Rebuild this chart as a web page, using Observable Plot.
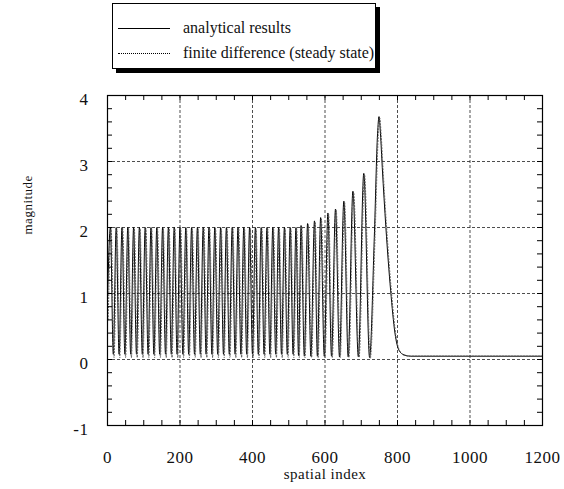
<!DOCTYPE html>
<html><head><meta charset="utf-8">
<script src="https://cdn.jsdelivr.net/npm/d3@7"></script>
<script src="https://cdn.jsdelivr.net/npm/@observablehq/plot@0.6"></script>
<style>
body{margin:0;background:#fff;font-family:"Liberation Serif",serif;}
#legend{position:relative;height:75px;width:564px;}
#box{position:absolute;left:112px;top:3px;width:262px;height:64px;border:1px solid #000;box-shadow:4px 4px 0 #000;background:#fff;font-size:16px;color:#111;}
.row{position:absolute;left:5px;height:20px;display:flex;align-items:center;white-space:nowrap;}
.sample{display:inline-block;width:52px;margin-right:13px;height:0;}
#chart svg text{letter-spacing:0.5px;}
</style></head>
<body>
<div id="legend"><div id="box"></div></div>
<div id="chart"></div>
<script>
// ---- data ----
const seriesNames = ["analytical results", "finite difference (steady state)"];
const xTicks = [0, 200, 400, 600, 800, 1000, 1200];
const yTicks = [-1, 0, 1, 2, 3, 4];
const xGrid = [200, 400, 600, 800, 1000];
const yGrid = [0, 1, 2, 3];

// analytical results: oscillation peaks, troughs, and the final large peak + tail
const anaPeakX = [8,24,40,56,72,88,104,120,136,152,168,184,200,216,232,248,264,280,296,312,328,344,360,376,392,408,424,440,456,472,488,504,520,534,552,571,588,608,629,652,677,707];
const anaPeakY = [2,2,2,2,2,2,2,2,2,2,2,2,2,2,2,2,2,2,2,2,2,2,2,2,2,2,2,2,2,2,2,2,2,2.03,2.06,2.1,2.15,2.22,2.28,2.4,2.55,2.82];
const anaTroughX = [0,16,32,48,64,80,96,112,128,144,160,176,192,208,224,240,256,272,288,304,320,336,352,368,384,400,416,432,448,464,480,496,512,527,543,561,579,598,618,640,664,692,723];
const anaTroughY = [0.9,0.08,0.08,0.08,0.08,0.08,0.08,0.08,0.08,0.08,0.08,0.08,0.08,0.08,0.08,0.08,0.08,0.08,0.08,0.08,0.08,0.08,0.08,0.08,0.08,0.08,0.08,0.08,0.08,0.08,0.08,0.08,0.08,0.06,0.05,0.05,0.05,0.05,0.05,0.04,0.04,0.04,0.03];
const anaBigX = [736, 745, 749, 753, 758, 768, 781, 793, 804, 818, 836, 1200];
const anaBigY = [1.85, 3.42, 3.68, 3.42, 2.91, 2.0, 1.05, 0.4, 0.14, 0.07, 0.05, 0.05];

// finite difference (steady state)
const fdPeakX = [10,26,42,58,74,90,106,122,138,154,170,186,202,218,234,250,266,282,298,314,330,346,362,378,394,410,426,442,458,474,490,506,522,536,554,573,590,610,631,654,679,709];
const fdPeakY = [1.98,1.98,1.98,1.98,1.98,1.98,1.98,1.98,1.98,1.98,1.98,1.98,1.98,1.98,1.98,1.98,1.98,1.98,1.98,1.98,1.98,1.98,1.98,1.98,1.98,1.98,1.98,1.98,1.98,1.98,1.98,1.98,1.98,2.01,2.04,2.08,2.13,2.2,2.26,2.38,2.53,2.8];
const fdTroughX = [2,18,34,50,66,82,98,114,130,146,162,178,194,210,226,242,258,274,290,306,322,338,354,370,386,402,418,434,450,466,482,498,514,529,545,563,581,600,620,642,666,694,725];
const fdTroughY = [0.6,0.03,0.03,0.03,0.03,0.03,0.03,0.03,0.03,0.03,0.03,0.03,0.03,0.03,0.03,0.03,0.03,0.03,0.03,0.03,0.03,0.03,0.03,0.03,0.03,0.03,0.03,0.03,0.03,0.03,0.03,0.03,0.03,0.03,0.03,0.03,0.03,0.03,0.03,0.03,0.03,0.03,0.02];
const fdBigX = [738, 747, 751, 755, 760, 770, 783, 795, 806, 820, 838, 1200];
const fdBigY = [1.85, 3.4, 3.66, 3.4, 2.9, 2.0, 1.04, 0.39, 0.13, 0.06, 0.05, 0.05];

// ---- legend ----
const box = document.getElementById("box");
const sampleStyles = ["1px solid #000", "1px dotted #000"];
seriesNames.forEach((name, i) => {
  const row = document.createElement("div");
  row.className = "row";
  row.style.top = (i === 0 ? 14 : 39) + "px";
  const s = document.createElement("span");
  s.className = "sample";
  s.style.borderTop = sampleStyles[i];
  row.appendChild(s);
  row.appendChild(document.createTextNode(name));
  box.appendChild(row);
});

// ---- chart ----
function pts(...pairs) {
  const out = [];
  for (let k = 0; k < pairs.length; k += 2) {
    pairs[k].forEach((x, i) => out.push({x, y: pairs[k + 1][i]}));
  }
  return out.sort((a, b) => a.x - b.x);
}
const ana = pts(anaPeakX, anaPeakY, anaTroughX, anaTroughY, anaBigX, anaBigY);
const fd = pts(fdPeakX, fdPeakY, fdTroughX, fdTroughY, fdBigX, fdBigY);

const xMinor = d3.range(0, 1201, 50);
const yMinor = d3.range(-1, 4.001, 0.2).map(v => +v.toFixed(1));
const fmt = d => String(d);
const TL = 5; // inward tick length in px
const frameW = 564 - 107 - 22, frameH = 414 - 20 - 64;

const chart = Plot.plot({
  width: 564,
  height: 414,
  marginTop: 20,
  marginBottom: 64,
  marginLeft: 107,
  marginRight: 22,
  x: {domain: [0, 1200], label: null},
  y: {domain: [-1, 4], label: null},
  style: {fontFamily: "Liberation Serif, serif", fontSize: "17px", color: "#111", background: "#fff"},
  marks: [
    Plot.gridX(xGrid, {stroke: "#222", strokeOpacity: 0.8, strokeDasharray: "3,2"}),
    Plot.gridY(yGrid, {stroke: "#222", strokeOpacity: 0.8, strokeDasharray: "3,2"}),
    Plot.line(ana, {x: "x", y: "y", curve: "monotone-x", stroke: "#000", strokeWidth: 1}),
    Plot.line(fd, {x: "x", y: "y", curve: "monotone-x", stroke: "#555", strokeWidth: 1, strokeDasharray: "1,2"}),
    Plot.frame({stroke: "#000", strokeWidth: 1.2}),
    Plot.tickX(xMinor, {x: d => d, insetTop: frameH - TL, stroke: "#000"}),
    Plot.tickX(xMinor, {x: d => d, insetBottom: frameH - TL, stroke: "#000"}),
    Plot.tickY(yMinor, {y: d => d, insetRight: frameW - TL, stroke: "#000"}),
    Plot.tickY(yMinor, {y: d => d, insetLeft: frameW - TL, stroke: "#000"}),
    Plot.axisX(xTicks, {anchor: "bottom", tickSize: 0, tickPadding: 25, tickFormat: fmt, label: null, fontSize: 17}),
    Plot.axisY(yTicks, {anchor: "left", tickSize: 0, tickPadding: 19, dy: 4, tickFormat: fmt, label: null, fontSize: 17}),
    Plot.text(["spatial index"], {frameAnchor: "bottom", dy: 53, fontSize: 15}),
    Plot.text(["magnitude"], {frameAnchor: "left", dx: -80, dy: -26, rotate: -90, fontSize: 13})
  ]
});
document.getElementById("chart").appendChild(chart);
</script>
</body></html>
